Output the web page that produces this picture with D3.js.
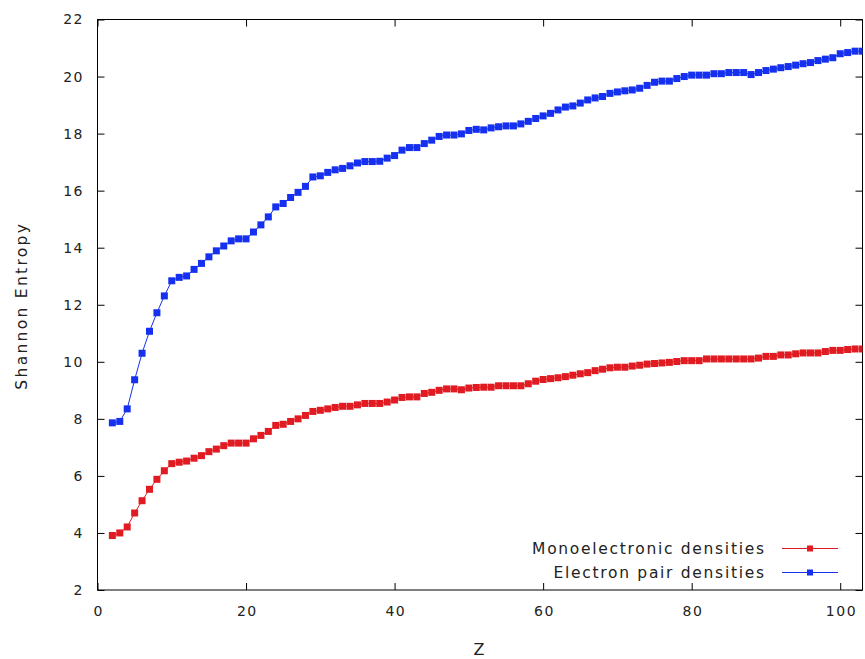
<!DOCTYPE html>
<html>
<head>
<meta charset="utf-8">
<script src="https://cdn.jsdelivr.net/npm/d3@7"></script>
<style>
  html, body { margin: 0; padding: 0; background: #fff; }
  svg { display: block; font-family: "DejaVu Sans", sans-serif; }
</style>
</head>
<body>
<svg id="chart" width="865" height="659"></svg>
<script>
// Atomic number Z = 2 .. 103
const atomicNumbers = d3.range(2, 104);

// Shannon entropy of the one-electron densities
const monoelectronic = [
  3.91, 4.00, 4.21, 4.70, 5.13, 5.53, 5.88, 6.18, 6.43, 6.48,
  6.52, 6.62, 6.71, 6.85, 6.94, 7.06, 7.15, 7.15, 7.15, 7.30,
  7.42, 7.56, 7.77, 7.81, 7.91, 8.00, 8.12, 8.26, 8.30, 8.35,
  8.40, 8.44, 8.44, 8.49, 8.54, 8.54, 8.54, 8.59, 8.66, 8.75,
  8.77, 8.77, 8.89, 8.93, 9.00, 9.05, 9.05, 9.02, 9.08, 9.10,
  9.11, 9.11, 9.16, 9.16, 9.16, 9.16, 9.23, 9.32, 9.38, 9.41,
  9.44, 9.48, 9.53, 9.58, 9.62, 9.69, 9.74, 9.79, 9.81, 9.81,
  9.85, 9.88, 9.92, 9.94, 9.96, 9.98, 10.01, 10.04, 10.04, 10.04,
  10.10, 10.10, 10.10, 10.10, 10.10, 10.10, 10.10, 10.13, 10.19, 10.19,
  10.24, 10.24, 10.28, 10.31, 10.31, 10.31, 10.36, 10.40, 10.40, 10.43,
  10.45, 10.45
];

// Shannon entropy of the electron-pair densities
const electronPair = [
  7.86, 7.91, 8.35, 9.37, 10.30, 11.07, 11.72, 12.31, 12.84, 12.96,
  13.01, 13.24, 13.45, 13.68, 13.89, 14.06, 14.24, 14.31, 14.31, 14.55,
  14.80, 15.08, 15.43, 15.55, 15.76, 15.94, 16.15, 16.48, 16.52, 16.64,
  16.73, 16.78, 16.87, 16.97, 17.02, 17.02, 17.03, 17.14, 17.23, 17.42,
  17.51, 17.51, 17.65, 17.77, 17.90, 17.95, 17.95, 17.99, 18.11, 18.15,
  18.13, 18.20, 18.24, 18.27, 18.27, 18.34, 18.43, 18.53, 18.62, 18.71,
  18.83, 18.93, 18.97, 19.07, 19.18, 19.25, 19.30, 19.41, 19.46, 19.50,
  19.53, 19.59, 19.69, 19.80, 19.84, 19.84, 19.93, 20.00, 20.05, 20.05,
  20.05, 20.10, 20.10, 20.14, 20.14, 20.14, 20.07, 20.14, 20.21, 20.26,
  20.31, 20.35, 20.40, 20.45, 20.49, 20.56, 20.61, 20.66, 20.80, 20.84,
  20.89, 20.89
];

const xTicks = [0, 20, 40, 60, 80, 100];
const yTicks = [2, 4, 6, 8, 10, 12, 14, 16, 18, 20, 22];

const seriesNames = ["Monoelectronic densities", "Electron pair densities"];
const seriesColors = ["#e01b22", "#1530ee"];

const series = [
  { name: seriesNames[0], color: seriesColors[0], values: monoelectronic },
  { name: seriesNames[1], color: seriesColors[1], values: electronPair }
];

const svg = d3.select("#chart");
const margin = { left: 97.5, right: 2.5, top: 19.5, bottom: 69 };
const W = 865, H = 659;
const x0 = margin.left, x1 = W - margin.right;
const y0 = H - margin.bottom, y1 = margin.top;

const x = d3.scaleLinear().domain([0, 103]).range([x0, x1]);
const y = d3.scaleLinear().domain([2, 22]).range([y0, y1]);

const tickLen = 7;
const labelColor = "#222";
const tickSpacing = 1.5;

// clip so the markers at the edge do not spill over the frame
svg.append("defs").append("clipPath").attr("id", "plotClip")
  .append("rect")
  .attr("x", x0).attr("y", y1)
  .attr("width", x1 - x0).attr("height", y0 - y1);

// bottom and left axes with inward ticks
const xAxis = d3.axisBottom(x).tickValues(xTicks).tickSize(-tickLen).tickPadding(16);
const yAxis = d3.axisLeft(y).tickValues(yTicks).tickSize(-tickLen).tickPadding(15 - tickSpacing);

const gx = svg.append("g").attr("transform", `translate(0,${y0})`).call(xAxis);
const gy = svg.append("g").attr("transform", `translate(${x0},0)`).call(yAxis);

[gx, gy].forEach(g => {
  g.select(".domain").remove();
  g.selectAll(".tick line").attr("stroke", "#000").attr("stroke-width", 1);
  g.selectAll(".tick text")
    .attr("fill", labelColor)
    .style("font-size", "14px")
    .style("letter-spacing", tickSpacing + "px")
    .style("font-family", "'DejaVu Sans', sans-serif");
});
gx.selectAll(".tick text").attr("dx", tickSpacing / 2);

// mirrored ticks on top and right
const gTop = svg.append("g").attr("transform", `translate(0,${y1})`)
  .call(d3.axisTop(x).tickValues(xTicks).tickSize(-tickLen).tickFormat(""));
const gRight = svg.append("g").attr("transform", `translate(${x1},0)`)
  .call(d3.axisRight(y).tickValues(yTicks).tickSize(-tickLen).tickFormat(""));
[gTop, gRight].forEach(g => {
  g.select(".domain").remove();
  g.selectAll(".tick line").attr("stroke", "#000");
});

// frame
svg.append("rect")
  .attr("x", x0).attr("y", y1)
  .attr("width", x1 - x0).attr("height", y0 - y1)
  .attr("fill", "none").attr("stroke", "#000").attr("stroke-width", 1);

// axis titles
svg.append("text")
  .attr("x", 479).attr("y", 655)
  .attr("text-anchor", "middle")
  .attr("fill", labelColor)
  .style("font-size", "16px")
  .text("Z");

svg.append("text")
  .attr("transform", `translate(27,${(y0 + y1) / 2 + 1}) rotate(-90)`)
  .attr("text-anchor", "middle")
  .attr("fill", labelColor)
  .style("font-size", "15.5px")
  .style("letter-spacing", "2.3px")
  .text("Shannon Entropy");

// data lines and square markers
const plot = svg.append("g").attr("clip-path", "url(#plotClip)");
const line = d3.line().x((d, i) => x(atomicNumbers[i])).y(d => y(d));
const markerSize = 7;

series.forEach(s => {
  plot.append("path")
    .datum(s.values)
    .attr("d", line)
    .attr("fill", "none")
    .attr("stroke", s.color)
    .attr("stroke-width", 1);
  plot.selectAll(null)
    .data(s.values)
    .enter().append("rect")
    .attr("x", (d, i) => x(atomicNumbers[i]) - markerSize / 2)
    .attr("y", d => y(d) - markerSize / 2)
    .attr("width", markerSize).attr("height", markerSize)
    .attr("fill", s.color);
});

// legend
const legendSpacing = 1.7;
const legend = svg.append("g");
series.forEach((s, i) => {
  const ly = 548.5 + i * 24;
  legend.append("text")
    .attr("x", 764 + legendSpacing).attr("y", ly)
    .attr("dy", "0.35em")
    .attr("text-anchor", "end")
    .attr("fill", labelColor)
    .style("font-size", "15.5px")
    .style("letter-spacing", legendSpacing + "px")
    .text(s.name);
  legend.append("line")
    .attr("x1", 782).attr("x2", 838)
    .attr("y1", ly).attr("y2", ly)
    .attr("stroke", s.color).attr("stroke-width", 1);
  legend.append("rect")
    .attr("x", 810 - 3).attr("y", ly - 3)
    .attr("width", 6).attr("height", 6)
    .attr("fill", s.color);
});
</script>
</body>
</html>
